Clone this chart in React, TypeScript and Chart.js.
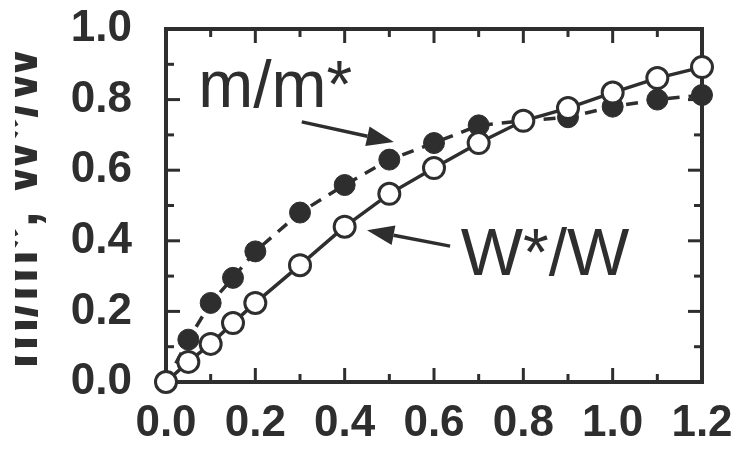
import React, { useEffect, useRef } from "react";
import { Chart, registerables } from "chart.js";

Chart.register(...registerables);

// ---- data ----
const xWstarW = [0, 0.05, 0.1, 0.15, 0.2, 0.3, 0.4, 0.5, 0.6, 0.7, 0.8, 0.9, 1.0, 1.1, 1.2];
const yWstarW = [0, 0.057, 0.108, 0.167, 0.224, 0.331, 0.44, 0.533, 0.606, 0.677, 0.74, 0.776, 0.82, 0.861, 0.892];

const xMass = [0, 0.05, 0.1, 0.15, 0.2, 0.3, 0.4, 0.5, 0.6, 0.7, 0.8, 0.9, 1.0, 1.1, 1.2];
const yMass = [0, 0.12, 0.224, 0.295, 0.37, 0.48, 0.558, 0.63, 0.677, 0.727, 0.74, 0.75, 0.78, 0.8, 0.813];

const xTickValues = [0, 0.2, 0.4, 0.6, 0.8, 1.0, 1.2];
const xMinorTicks = [0.1, 0.3, 0.5, 0.7, 0.9, 1.1];
const yTickValues = [0, 0.2, 0.4, 0.6, 0.8, 1.0];
const yMinorTicks = [0.1, 0.3, 0.5, 0.7, 0.9];

const yAxisTitle = "m/m*, W*/W";
const massLabel = "m/m*";
const wLabel = "W*/W";
// annotation anchors in data units: [x, y]
const massLabelAt = [0.072, 0.779];
const wLabelAt = [0.66, 0.303];
const massArrowFrom = [0.304, 0.737];
const massArrowTo = [0.51, 0.68];
const wArrowFrom = [0.636, 0.385];
const wArrowTo = [0.45, 0.43];

const INK = "#2e2e2e";
const FONT = "'Liberation Sans', Arial, Helvetica, sans-serif";

// target plot frame in the 740x462 canvas
const FRAME = { left: 166, right: 702, top: 29, bottom: 382 };

function drawArrow(ctx: CanvasRenderingContext2D, x1: number, y1: number, x2: number, y2: number) {
  const ang = Math.atan2(y2 - y1, x2 - x1);
  const headLen = 27;
  const halfW = 10;
  const bx = x2 - headLen * Math.cos(ang);
  const by = y2 - headLen * Math.sin(ang);
  ctx.beginPath();
  ctx.moveTo(x1, y1);
  ctx.lineTo(bx, by);
  ctx.lineWidth = 3.5;
  ctx.stroke();
  ctx.beginPath();
  ctx.moveTo(x2, y2);
  ctx.lineTo(bx + halfW * Math.sin(ang), by - halfW * Math.cos(ang));
  ctx.lineTo(bx - halfW * Math.sin(ang), by + halfW * Math.cos(ang));
  ctx.closePath();
  ctx.fill();
}

const framePlugin = {
  id: "frameTicks",
  beforeDatasetsDraw(chart: any) {
    const { ctx, chartArea, scales } = chart;
    const { left, right, top, bottom } = chartArea;
    const xs = scales.x;
    const ys = scales.y;
    ctx.save();
    ctx.strokeStyle = INK;
    ctx.lineCap = "butt";
    ctx.lineWidth = 3;
    const seg = (a: number, b: number, c: number, d: number) => {
      ctx.beginPath();
      ctx.moveTo(a, b);
      ctx.lineTo(c, d);
      ctx.stroke();
    };
    const major = 14;
    const minor = 8;
    xTickValues.forEach((v) => {
      const p = xs.getPixelForValue(v);
      seg(p, bottom, p, bottom - major);
      seg(p, top, p, top + major);
    });
    xMinorTicks.forEach((v) => {
      const p = xs.getPixelForValue(v);
      seg(p, bottom, p, bottom - minor);
      seg(p, top, p, top + minor);
    });
    yTickValues.forEach((v) => {
      const p = ys.getPixelForValue(v);
      seg(left, p, left + major, p);
      seg(right, p, right - major, p);
    });
    yMinorTicks.forEach((v) => {
      const p = ys.getPixelForValue(v);
      seg(left, p, left + minor, p);
      seg(right, p, right - minor, p);
    });
    ctx.lineWidth = 4;
    ctx.strokeRect(left, top, right - left, bottom - top);
    ctx.restore();
  },
  afterDatasetsDraw(chart: any) {
    const { ctx, scales } = chart;
    const xs = scales.x;
    const ys = scales.y;
    const P = (pt: number[]) => [xs.getPixelForValue(pt[0]), ys.getPixelForValue(pt[1])];
    ctx.save();
    ctx.fillStyle = INK;
    ctx.strokeStyle = INK;
    ctx.font = `400 66px ${FONT}`;
    ctx.textAlign = "left";
    ctx.textBaseline = "alphabetic";
    const [mx, my] = P(massLabelAt);
    ctx.fillText(massLabel, mx, my);
    const [wx, wy] = P(wLabelAt);
    ctx.fillText(wLabel, wx, wy);
    const [a1, b1] = P(massArrowFrom);
    const [a2, b2] = P(massArrowTo);
    drawArrow(ctx, a1, b1, a2, b2);
    const [c1, d1] = P(wArrowFrom);
    const [c2, d2] = P(wArrowTo);
    drawArrow(ctx, c1, d1, c2, d2);
    ctx.restore();
  },
  afterDraw(chart: any) {
    const { ctx } = chart;
    ctx.save();
    ctx.beginPath();
    ctx.rect(15, 0, 200, chart.height);
    ctx.clip();
    ctx.translate(37, 208);
    ctx.rotate(-Math.PI / 2);
    ctx.fillStyle = INK;
    ctx.font = `700 58px ${FONT}`;
    ctx.textAlign = "center";
    ctx.textBaseline = "alphabetic";
    ctx.fillText(yAxisTitle, 0, 0);
    ctx.restore();
  },
};

export default function App() {
  const ref = useRef<HTMLCanvasElement | null>(null);

  useEffect(() => {
    if (!ref.current) return;
    const chart = new Chart(ref.current, {
      type: "scatter",
      data: {
        datasets: [
          {
            label: wLabel,
            data: xWstarW.map((x, i) => ({ x, y: yWstarW[i] })),
            showLine: true,
            borderColor: INK,
            borderWidth: 3.5,
            pointRadius: 10.5,
            pointBorderWidth: 3,
            pointBackgroundColor: "#ffffff",
            pointBorderColor: INK,
            clip: false as any,
          },
          {
            label: massLabel,
            data: xMass.map((x, i) => ({ x, y: yMass[i] })),
            showLine: true,
            borderColor: INK,
            borderWidth: 3.5,
            borderDash: [12, 9],
            pointRadius: 10.5,
            pointBorderWidth: 1,
            pointBackgroundColor: INK,
            pointBorderColor: INK,
            clip: false as any,
          },
        ],
      },
      options: {
        responsive: false,
        animation: false,
        devicePixelRatio: 1,
        layout: { padding: 0 },
        plugins: {
          legend: { display: false },
          tooltip: { enabled: false },
        },
        scales: {
          x: {
            type: "linear",
            min: 0,
            max: 1.2,
            grid: { display: false, drawTicks: false },
            border: { display: false },
            afterBuildTicks: (s: any) => {
              s.ticks = xTickValues.map((v) => ({ value: v }));
            },
            afterFit: (s: any) => {
              s.height = 462 - FRAME.bottom;
              s.paddingLeft = 0;
              s.paddingRight = 0;
            },
            ticks: {
              padding: 15,
              color: INK,
              font: { family: FONT, size: 44, weight: "bold" },
              callback: (v: any) => Number(v).toFixed(1),
              maxRotation: 0,
              autoSkip: false,
            },
          },
          y: {
            type: "linear",
            min: 0,
            max: 1.0,
            grid: { display: false, drawTicks: false },
            border: { display: false },
            afterBuildTicks: (s: any) => {
              s.ticks = yTickValues.map((v) => ({ value: v }));
            },
            afterFit: (s: any) => {
              s.width = FRAME.left;
              s.paddingTop = 0;
              s.paddingBottom = 0;
            },
            ticks: {
              padding: 34,
              color: INK,
              font: { family: FONT, size: 44, weight: "bold" },
              callback: (v: any) => Number(v).toFixed(1),
              autoSkip: false,
            },
          },
        },
      },
      plugins: [
        {
          id: "fixArea",
          beforeLayout(chart: any) {
            chart.options.layout.padding = {
              top: FRAME.top,
              right: 740 - FRAME.right,
              left: 0,
              bottom: 0,
            };
          },
        },
        framePlugin,
      ],
    });
    return () => chart.destroy();
  }, []);

  return (
    <div style={{ position: "absolute", left: 0, top: 0, width: 740, height: 462, background: "#ffffff" }}>
      <canvas ref={ref} width={740} height={462} style={{ display: "block" }} />
    </div>
  );
}
